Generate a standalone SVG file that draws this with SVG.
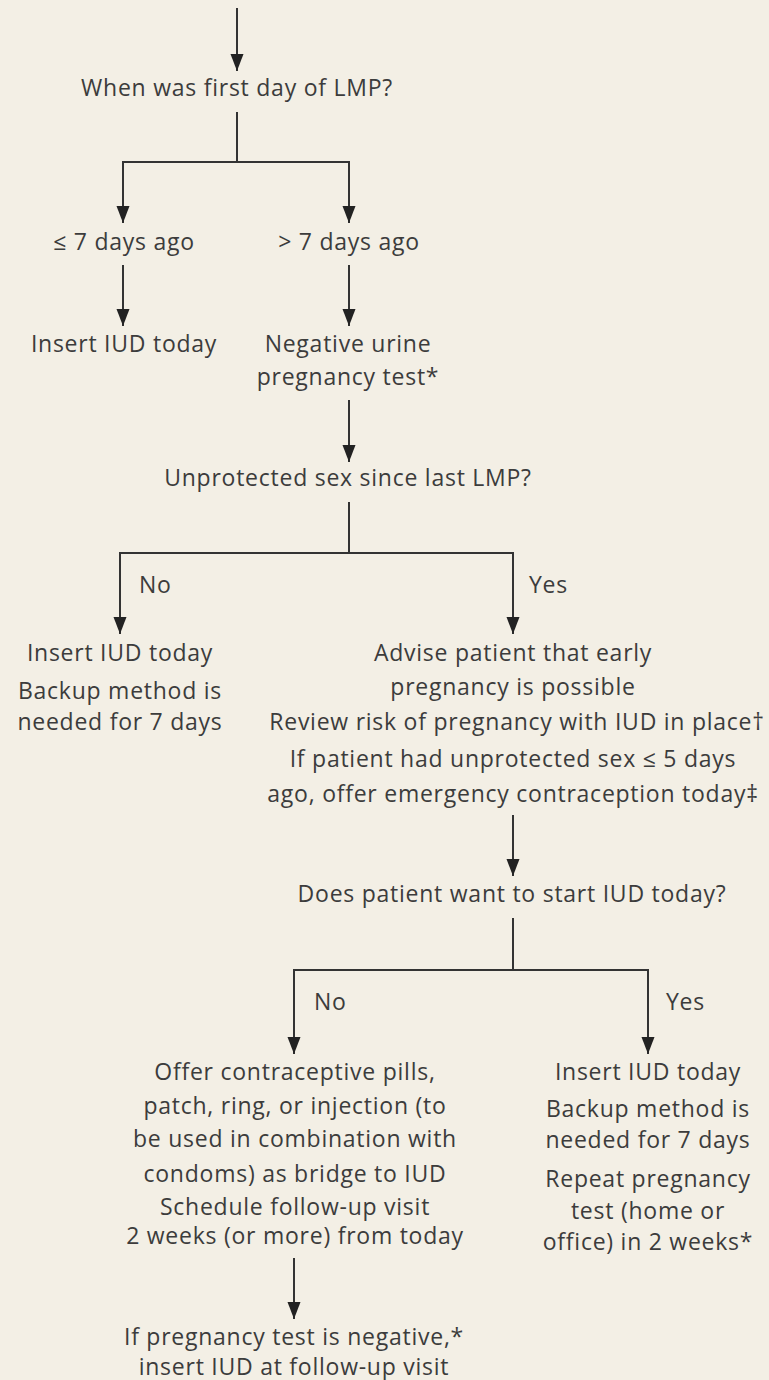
<svg xmlns="http://www.w3.org/2000/svg" width="769" height="1380" viewBox="0 0 769 1380">
<defs>
<style>
.t{font-family:"Open Sans","Liberation Sans",sans-serif;font-size:23px;letter-spacing:0.75px;fill:#3c3c3c;text-anchor:middle}
.l{font-family:"Open Sans","Liberation Sans",sans-serif;font-size:23px;letter-spacing:0.75px;fill:#3c3c3c;text-anchor:start}
.c{fill:none;stroke:#333;stroke-width:2}
</style>
<marker id="ah" markerUnits="userSpaceOnUse" viewBox="0 -7 17 14" refX="17" refY="0" markerWidth="17" markerHeight="14" orient="auto">
<path d="M0,-6.5 L17,0 L0,6.5 z" fill="#222"/>
</marker>
</defs>
<rect width="769" height="1380" fill="#f3efe5"/>
<g id="connectors">
<line class="c" x1="237" y1="8" x2="237" y2="71" marker-end="url(#ah)"/>
<polyline class="c" points="237,112 237,162"/>
<polyline class="c" points="123,223 123,162 349,162 349,223" marker-end="url(#ah)"/>
<line class="c" x1="123" y1="162" x2="123" y2="223" marker-end="url(#ah)"/>
<line class="c" x1="123" y1="265" x2="123" y2="326" marker-end="url(#ah)"/>
<line class="c" x1="349" y1="265" x2="349" y2="326" marker-end="url(#ah)"/>
<line class="c" x1="349" y1="400" x2="349" y2="462" marker-end="url(#ah)"/>
<polyline class="c" points="349,502 349,553"/>
<polyline class="c" points="120,634 120,553 513,553 513,634" marker-end="url(#ah)"/>
<line class="c" x1="120" y1="553" x2="120" y2="634" marker-end="url(#ah)"/>
<line class="c" x1="513" y1="815" x2="513" y2="876" marker-end="url(#ah)"/>
<polyline class="c" points="513,918 513,970"/>
<polyline class="c" points="294,1054 294,970 648,970 648,1054" marker-end="url(#ah)"/>
<line class="c" x1="294" y1="970" x2="294" y2="1054" marker-end="url(#ah)"/>
<line class="c" x1="294" y1="1258" x2="294" y2="1319" marker-end="url(#ah)"/>
<text class="l" x="139" y="593">No</text>
<text class="l" x="529" y="593">Yes</text>
<text class="l" x="314" y="1010">No</text>
<text class="l" x="666" y="1010">Yes</text>
</g>
<g id="q-lmp"><text class="t" x="237" y="96">When was first day of LMP?</text></g>
<g id="le7"><text class="t" x="124" y="250">≤ 7 days ago</text></g>
<g id="gt7"><text class="t" x="349" y="250">&gt; 7 days ago</text></g>
<g id="insert1"><text class="t" x="124" y="352">Insert IUD today</text></g>
<g id="negtest"><text class="t" x="348" y="352">Negative urine</text><text class="t" x="348" y="385">pregnancy test*</text></g>
<g id="q-unprot"><text class="t" x="348" y="486">Unprotected sex since last LMP?</text></g>
<g id="insert2"><text class="t" x="120" y="661">Insert IUD today</text><text class="t" x="120" y="699">Backup method is</text><text class="t" x="120" y="730">needed for 7 days</text></g>
<g id="advise"><text class="t" x="513" y="661">Advise patient that early</text><text class="t" x="513" y="695">pregnancy is possible</text><text class="t" x="517" y="730">Review risk of pregnancy with IUD in place†</text><text class="t" x="513" y="767">If patient had unprotected sex ≤ 5 days</text><text class="t" x="513" y="802">ago, offer emergency contraception today‡</text></g>
<g id="q-start"><text class="t" x="512" y="902">Does patient want to start IUD today?</text></g>
<g id="offer"><text class="t" x="295" y="1080">Offer contraceptive pills,</text><text class="t" x="295" y="1114">patch, ring, or injection (to</text><text class="t" x="295" y="1147">be used in combination with</text><text class="t" x="295" y="1182">condoms) as bridge to IUD</text><text class="t" x="295" y="1215">Schedule follow-up visit</text><text class="t" x="295" y="1244">2 weeks (or more) from today</text></g>
<g id="insert3"><text class="t" x="648" y="1080">Insert IUD today</text><text class="t" x="648" y="1117">Backup method is</text><text class="t" x="648" y="1148">needed for 7 days</text><text class="t" x="648" y="1187">Repeat pregnancy</text><text class="t" x="648" y="1219">test (home or</text><text class="t" x="648" y="1250">office) in 2 weeks*</text></g>
<g id="followup"><text class="t" x="294" y="1345">If pregnancy test is negative,*</text><text class="t" x="294" y="1375">insert IUD at follow-up visit</text></g>
</svg>
